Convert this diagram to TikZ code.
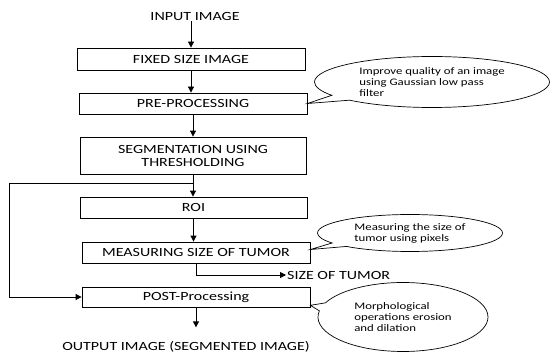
\documentclass[tikz,border=0pt]{standalone}
\usepackage{fontspec}
\setmainfont{Carlito}[FakeStretch=1.28]
\usetikzlibrary{arrows.meta,shapes.callouts,calc}

\tikzset{
  stepbox/.style={draw, line width=0.8pt, minimum height=21pt, inner sep=0pt, font=\fontsize{12.5}{14}\selectfont},
  plain/.style={inner sep=1pt, font=\fontsize{12.5}{14}\selectfont},
  arr/.style={line width=0.8pt, -{Triangle[length=6pt,width=6pt]}},
  link/.style={line width=0.8pt},
  note/.style={ellipse callout, draw, line width=0.7pt, inner sep=0pt, align=left,
               font=\fontsize{10}{11}\selectfont, callout pointer arc=14}
}

\begin{document}
\begin{tikzpicture}[x=1pt,y=-1pt]
\useasboundingbox (0,0) rectangle (552,353);

% main processing chain
\node[plain] (in) at (195,16) {INPUT IMAGE};
\node[stepbox, minimum width=228pt, minimum height=22pt] (fixed) at (191,59) {FIXED SIZE IMAGE};
\node[stepbox, minimum width=228pt] (pre) at (193,103.5) {PRE-PROCESSING};
\node[stepbox, minimum width=226pt, minimum height=37pt, align=center] (seg) at (193,155.5)
  {SEGMENTATION USING\\[-1pt]THRESHOLDING};
\node[stepbox, minimum width=227pt] (roi) at (193.5,207.5) {ROI};
\node[stepbox, minimum width=228pt] (meas) at (196,252.5) {MEASURING SIZE OF TUMOR};
\node[stepbox, minimum width=228pt, minimum height=20pt] (post) at (196,297) {POST-Processing};
\node[plain] (sz) at (286,275) [anchor=west] {SIZE OF TUMOR};
\node[plain] (out) at (186,347) {OUTPUT IMAGE (SEGMENTED IMAGE)};

% vertical flow
\draw[arr] (fixed.north |- in.south) -- (fixed.north);
\draw[arr] (fixed.south) -- (fixed.south |- pre.north);
\draw[arr] (pre.south) -- (pre.south |- seg.north);
\draw[arr] (seg.south) -- (seg.south |- roi.north);
\draw[arr] (roi.south) -- (roi.south |- meas.north);
\draw[arr, shorten >=13pt] (post.south) -- (post.south |- out.north);

% tumour size output
\draw[arr] (meas.south) |- (sz.west);

% bypass from the thresholded image straight to post-processing
\coordinate (jn) at ($(seg.south)!0.4!(seg.south |- roi.north)$);
\coordinate (lc) at (9,0);
\draw[arr] (jn) -- (jn -| lc) |- (post.west);

% explanatory callouts
\node[note, minimum width=235pt, minimum height=51pt,
      callout absolute pointer={(pre.east)}] (n1) at (432,82)
  {Improve quality of an image\\using Gaussian low pass\\filter};
\node[note, minimum width=185pt, minimum height=37pt,
      callout absolute pointer={($(meas.east)+(0,-3)$)}] (n2) at (410,233)
  {Measuring the size of\\tumor using pixels};
\node[note, minimum width=170pt, minimum height=69pt,
      callout absolute pointer={($(post.east)!0.8!(post.south east)$)}] (n3) at (403,317)
  {Morphological\\operations erosion\\and dilation};
\end{tikzpicture}
\end{document}
